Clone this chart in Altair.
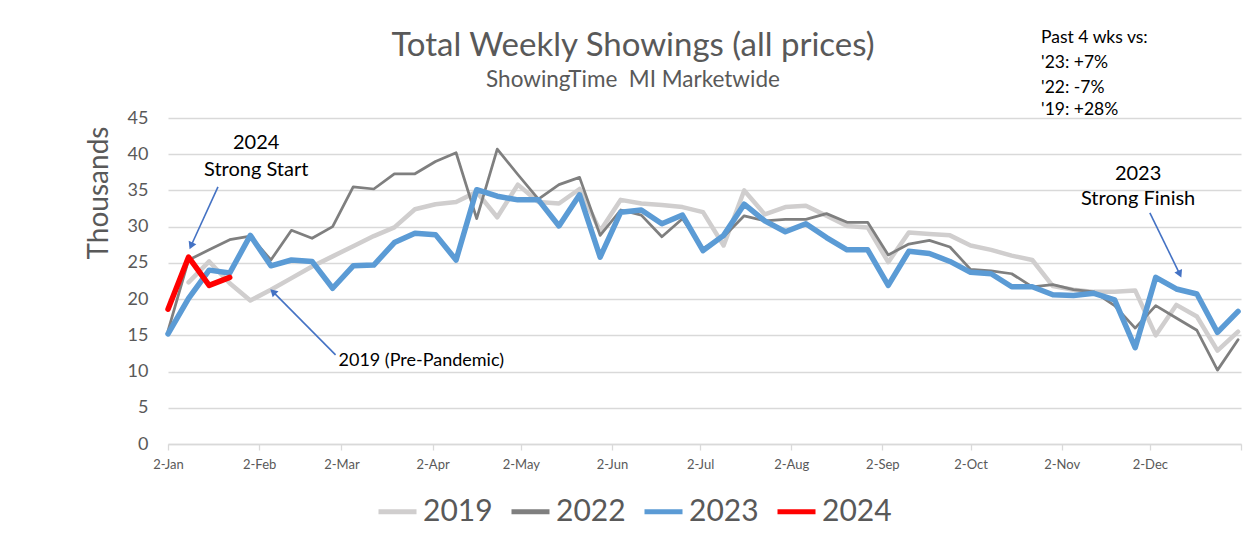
import altair as alt
import pandas as pd

# ---------------- data ----------------
weeks = pd.date_range("2023-01-02", periods=53, freq="7D").strftime("%Y-%m-%d").tolist()
years = ["2019", "2022", "2023", "2024"]

v2019 = [None, 22.3, 25.2, 22.2, 19.8, 21.3, 22.9, 24.5, 25.9, 27.3,
         28.7, 29.9, 32.4, 33.1, 33.4, 34.8, 31.3, 35.8, 33.4, 33.2,
         35.2, 29.4, 33.7, 33.2, 33.0, 32.7, 32.0, 27.4, 35.0, 31.7,
         32.7, 32.9, 31.5, 30.1, 29.9, 25.1, 29.2, 29.0, 28.8, 27.4,
         26.8, 26.0, 25.4, 21.8, 21.3, 21.0, 21.0, 21.2, 15.0, 19.2,
         17.6, 12.9, 15.5]
v2022 = [15.6, 25.4, 26.8, 28.2, 28.7, 25.4, 29.5, 28.4, 30.0, 35.5,
         35.2, 37.3, 37.3, 39.0, 40.2, 31.1, 40.7, 37.2, 33.8, 35.8,
         36.8, 28.8, 32.3, 31.6, 28.6, 31.1, 27.0, 28.6, 31.5, 30.8,
         31.0, 31.0, 31.8, 30.6, 30.6, 26.1, 27.6, 28.1, 27.2, 24.1,
         23.9, 23.5, 21.7, 22.0, 21.3, 21.0, 19.1, 16.0, 19.1, 17.4,
         15.7, 10.2, 14.4]
v2023 = [15.2, 20.1, 24.0, 23.6, 28.8, 24.6, 25.4, 25.2, 21.5, 24.6,
         24.7, 27.8, 29.1, 28.9, 25.4, 35.1, 34.2, 33.7, 33.7, 30.1,
         34.4, 25.8, 32.0, 32.3, 30.4, 31.6, 26.7, 28.8, 33.1, 30.8,
         29.3, 30.4, 28.5, 26.8, 26.8, 21.9, 26.6, 26.3, 25.2, 23.7,
         23.5, 21.7, 21.7, 20.6, 20.5, 20.8, 19.9, 13.3, 23.0, 21.4,
         20.7, 15.4, 18.3]
v2024 = [18.6, 25.8, 21.9, 23.0]

series = {"2019": v2019, "2022": v2022, "2023": v2023, "2024": v2024}

tick_dates = ["2023-%02d-02" % m for m in range(1, 13)] + ["2024-01-02"]

title_text = "Total Weekly Showings (all prices)"
subtitle_text = "ShowingTime \u00a0MI Marketwide"
ytitle_text = "Thousands"

ann_center_labels = ["2024", "Strong Start", "2023", "Strong Finish"]
ann_center_dates = ["2023-02-01", "2023-02-01", "2023-11-28", "2023-11-28"]
ann_center_vals = [41.6, 37.8, 37.3, 33.8]

ann_left_labels = ["2019 (Pre-Pandemic)"]
ann_left_dates = ["2023-03-01"]
ann_left_vals = [11.5]

note_labels = ["Past 4 wks vs:", "'23: +7%", "'22: -7%", "'19: +28%"]
note_dates = ["2023-10-26"] * 4
note_vals = [56.1, 52.6, 49.2, 46.1]

arrow_start_dates = ["2023-01-19", "2023-02-28", "2023-12-02"]
arrow_start_vals = [35.5, 12.3, 31.9]
arrow_end_dates = ["2023-01-10", "2023-02-07", "2023-12-12"]
arrow_end_vals = [27.5, 20.9, 23.6]
arrow_rot = [204, 314, 155]

# ---------------- tables ----------------
rows = []
for y in years:
    for d, v in zip(weeks, series[y]):
        if v is not None:
            rows.append({"date": d, "value": v, "year": y})
df = pd.DataFrame(rows)

ann_c = pd.DataFrame({"date": ann_center_dates, "value": ann_center_vals, "label": ann_center_labels})
ann_l = pd.DataFrame({"date": ann_left_dates, "value": ann_left_vals, "label": ann_left_labels})
notes = pd.DataFrame({"date": note_dates, "value": note_vals, "label": note_labels})
arrows = pd.DataFrame({"date": arrow_start_dates, "value": arrow_start_vals,
                       "date2": arrow_end_dates, "value2": arrow_end_vals})
heads = pd.DataFrame({"date": arrow_end_dates, "value": arrow_end_vals, "rot": arrow_rot})

# ---------------- styles ----------------
FONT = "Lato"
GREY_TXT = "#595959"
colors = ["#d0cece", "#7f7f7f", "#5b9bd5", "#ff0000"]
widths = {"2019": 4.5, "2022": 2.75, "2023": 5.5, "2024": 5.5}
ARROW = "#4472c4"

xenc = alt.X(
    "date:T",
    title=None,
    scale=alt.Scale(type="utc", domain=["2023-01-02", "2024-01-02"]),
    axis=alt.Axis(
        values=tick_dates, format="%-d-%b", labelExpr="utcyear(datum.value) > 2023 ? '' : datum.label",
        grid=False, domainColor="#d9d9d9", domainWidth=1.3, tickColor="#d9d9d9", tickWidth=1.3,
        tickSize=6, labelColor=GREY_TXT, labelFontSize=13, labelPadding=8, labelFlush=False,
        labelOverlap=False,
    ),
)
yenc = alt.Y(
    "value:Q",
    title=None,
    scale=alt.Scale(domain=[0, 45]),
    axis=alt.Axis(
        values=list(range(0, 50, 5)), grid=True, gridColor="#d9d9d9", gridWidth=1.3,
        domain=False, ticks=False, labelColor=GREY_TXT, labelFontSize=18, labelPadding=20,
    ),
)
legend = alt.Legend(
    title=None, orient="none", legendX=208, legendY=372, direction="horizontal",
    symbolType="stroke", symbolSize=1444, symbolStrokeWidth=5, labelFontSize=30,
    labelColor=GREY_TXT, labelOffset=4, columnPadding=8, padding=0,
)
cenc = alt.Color("year:N", scale=alt.Scale(domain=years, range=colors), legend=legend)

layers = []
for y in years:
    layers.append(
        alt.Chart(df)
        .transform_filter(alt.datum.year == y)
        .mark_line(strokeWidth=widths[y], strokeCap="round", strokeJoin="round")
        .encode(x=xenc, y=yenc, color=cenc)
    )

arrow_lines = alt.Chart(arrows).mark_rule(color=ARROW, strokeWidth=1.6).encode(
    x=xenc, x2=alt.X2("date2:T"), y=yenc, y2=alt.Y2("value2:Q"))
arrow_heads = alt.Chart(heads).mark_point(shape="triangle", filled=True, size=70, color=ARROW, opacity=1).encode(
    x=xenc, y=yenc, angle=alt.Angle("rot:Q", scale=None))

txt_c = alt.Chart(ann_c).mark_text(fontSize=20, color="#000000", align="center", baseline="middle").encode(
    x=xenc, y=yenc, text="label:N")
txt_l = alt.Chart(ann_l).mark_text(fontSize=18, color="#000000", align="left", baseline="middle").encode(
    x=xenc, y=yenc, text="label:N")
txt_n = alt.Chart(notes).mark_text(fontSize=17.5, color="#000000", align="left", baseline="middle").encode(
    x=xenc, y=yenc, text="label:N")

one = pd.DataFrame({"t": [0]})
title_m = alt.Chart(one).mark_text(text=title_text, fontSize=33, color=GREY_TXT, align="center",
                                   baseline="middle").encode(x=alt.value(465), y=alt.value(-72))
subtitle_m = alt.Chart(one).mark_text(text=subtitle_text, fontSize=22.5, color=GREY_TXT, align="center",
                                      baseline="middle").encode(x=alt.value(465), y=alt.value(-38))
ytitle_m = alt.Chart(one).mark_text(text=ytitle_text, fontSize=28, color=GREY_TXT, align="center",
                                    baseline="middle", angle=270).encode(x=alt.value(-68), y=alt.value(75))

chart = (
    alt.layer(*layers, arrow_lines, arrow_heads, txt_c, txt_l, txt_n, title_m, subtitle_m, ytitle_m)
    .properties(width=1073, height=326,
                padding={"left": 160, "top": 110, "right": 2, "bottom": 92},
                autosize=alt.AutoSizeParams(type="none"))
    .configure(font=FONT)
    .configure_view(stroke=None)
)

chart.save("out.html", embed_options={"renderer": "svg", "actions": False})
